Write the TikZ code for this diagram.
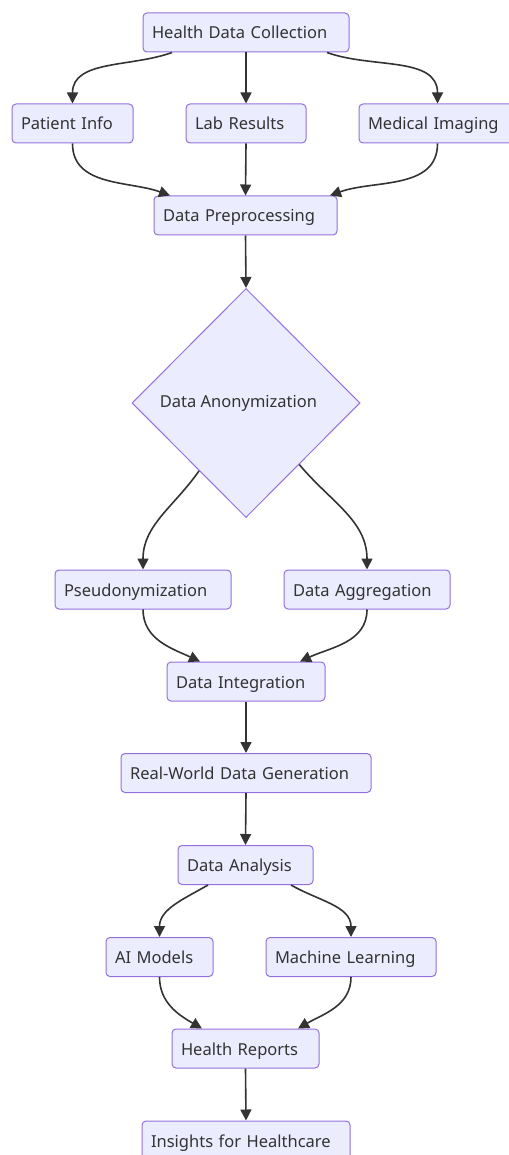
\documentclass[tikz,border=0pt]{standalone}
\usepackage{fontspec}
\setmainfont{Noto Sans}
\usetikzlibrary{shapes.geometric,arrows.meta,calc}
\definecolor{boxfill}{HTML}{ECECFF}
\definecolor{boxline}{HTML}{9370DB}
\definecolor{ink}{HTML}{333333}
\tikzset{
  box/.style={draw=boxline, fill=boxfill, line width=1pt, rounded corners=4pt,
    inner xsep=9pt, inner ysep=0pt, minimum height=39pt, align=left,
    text height=16pt, text depth=3pt,
    text=ink, font=\fontsize{16.5}{19}\selectfont, anchor=center},
  decide/.style={diamond, draw=boxline, fill=boxfill, line width=1pt, aspect=1,
    inner sep=0pt, minimum width=228pt, minimum height=229pt,
    text=ink, font=\fontsize{16.5}{19}\selectfont},
  conn/.style={draw=ink, line width=1.6pt, -{Triangle[length=11pt,width=11pt]}}
}
\begin{document}
\begin{tikzpicture}[x=1pt,y=1pt]
\useasboundingbox (0,0) rectangle (508,-1155);
% nodes
\node[box, text width=188pt] (hdc) at (246,-32.5) {Health Data Collection};
\node[box, text width=103pt] (pi) at (72.5,-123.5) {Patient Info};
\node[box, text width=102pt] (lr) at (246,-123.5) {Lab Results};
\node[box, text width=139pt] (mi) at (437.5,-123.5) {Medical Imaging};
\node[box, text width=165pt] (dp) at (245.5,-215.5) {Data Preprocessing};
\node[decide] (anon) at (246,-403) {Data Anonymization\hspace*{15pt}};
\node[box, text width=158pt] (ps) at (143,-589.5) {Pseudonymization};
\node[box, text width=148pt] (dag) at (367,-589.5) {Data Aggregation};
\node[box, text width=140pt] (di) at (246,-681.5) {Data Integration};
\node[box, text width=232pt] (rw) at (246,-773) {Real-World Data Generation};
\node[box, text width=117pt] (an) at (245.5,-865) {Data Analysis};
\node[box, text width=89pt] (ai) at (159.5,-957) {AI Models};
\node[box, text width=152pt] (ml) at (351,-957) {Machine Learning};
\node[box, text width=129pt] (hr) at (245.5,-1048.5) {Health Reports};
\node[box, text width=190pt] (ins) at (246,-1140.5) {Insights for Healthcare};
% connectors
\draw[conn] ([xshift=-74pt]hdc.south) to[out=200, in=90] (pi.north);
\draw[conn] (hdc.south) -- (lr.north);
\draw[conn] ([xshift=81pt]hdc.south) to[out=-20, in=90] (mi.north);
\draw[conn] (pi.south) to[out=-90, in=160] ([xshift=-75.5pt]dp.north);
\draw[conn] (lr.south) -- (dp.north);
\draw[conn] (mi.south) to[out=-90, in=20] ([xshift=84.5pt]dp.north);
\draw[conn] (dp.south) -- (anon.north);
\draw[conn] ($(anon.south)!0.41!(anon.west)$) to[out=235, in=90] (ps.north);
\draw[conn] ($(anon.south)!0.465!(anon.east)$) to[out=-50, in=90] (dag.north);
\draw[conn] (ps.south) to[out=-90, in=155] ([xshift=-46pt]di.north);
\draw[conn] (dag.south) to[out=-90, in=25] ([xshift=54pt]di.north);
\draw[conn] (di.south) -- (rw.north);
\draw[conn] (rw.south) -- (an.north);
\draw[conn] ([xshift=-37.5pt]an.south) to[out=210, in=90] (ai.north);
\draw[conn] ([xshift=45.5pt]an.south) to[out=-30, in=90] (ml.north);
\draw[conn] (ai.south) to[out=-90, in=150] ([xshift=-43.5pt]hr.north);
\draw[conn] (ml.south) to[out=-90, in=30] ([xshift=52.5pt]hr.north);
\draw[conn] (hr.south) -- (ins.north);
\end{tikzpicture}
\end{document}
